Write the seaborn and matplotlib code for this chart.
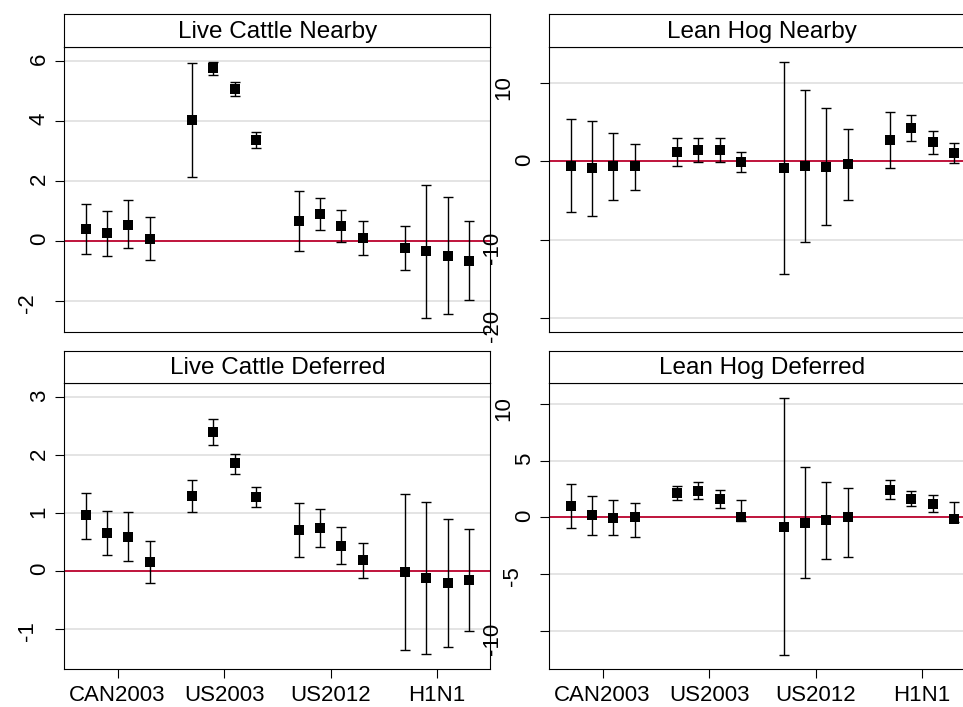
import matplotlib
matplotlib.use("Agg")
import matplotlib.pyplot as plt
import matplotlib.transforms as mtransforms
import numpy as np
import seaborn as sns

# event windows and position of each estimate on the x axis
events = ["CAN2003", "US2003", "US2012", "H1N1"]
event_ticks = [2.5, 7.5, 12.5, 17.5]
xpos = [1, 2, 3, 4, 6, 7, 8, 9, 11, 12, 13, 14, 16, 17, 18, 19]

# Live Cattle Nearby
lc_near_est = [0.40, 0.26, 0.54, 0.08, 4.03, 5.76, 5.06, 3.37,
               0.68, 0.90, 0.50, 0.11, -0.23, -0.34, -0.50, -0.67]
lc_near_lo = [-0.43, -0.49, -0.24, -0.63, 2.14, 5.53, 4.84, 3.10,
              -0.32, 0.37, -0.04, -0.46, -0.97, -2.57, -2.43, -1.97]
lc_near_hi = [1.23, 0.99, 1.38, 0.79, 5.92, 5.97, 5.29, 3.62,
              1.67, 1.43, 1.04, 0.68, 0.50, 1.87, 1.46, 0.66]

# Lean Hog Nearby
lh_near_est = [-0.55, -0.85, -0.55, -0.64, 1.19, 1.49, 1.49, -0.09,
               -0.81, -0.60, -0.68, -0.38, 2.72, 4.30, 2.51, 1.02]
lh_near_lo = [-6.51, -6.98, -4.94, -3.70, -0.55, -0.09, -0.09, -1.32,
              -14.38, -10.30, -8.17, -4.94, -0.89, 2.55, 0.98, -0.21]
lh_near_hi = [5.36, 5.19, 3.66, 2.21, 3.02, 3.02, 3.02, 1.23,
              12.72, 9.06, 6.77, 4.09, 6.34, 5.96, 3.91, 2.30]

# Live Cattle Deferred
lc_def_est = [0.96, 0.65, 0.59, 0.16, 1.30, 2.40, 1.86, 1.28,
              0.71, 0.75, 0.44, 0.19, -0.02, -0.13, -0.21, -0.16]
lc_def_lo = [0.56, 0.27, 0.17, -0.21, 1.02, 2.17, 1.68, 1.10,
             0.24, 0.41, 0.12, -0.12, -1.37, -1.44, -1.31, -1.04]
lc_def_hi = [1.35, 1.04, 1.02, 0.52, 1.58, 2.62, 2.03, 1.45,
             1.18, 1.07, 0.76, 0.49, 1.33, 1.20, 0.89, 0.73]

# Lean Hog Deferred
lh_def_est = [1.00, 0.21, -0.03, 0.03, 2.15, 2.33, 1.59, 0.00,
              -0.86, -0.50, -0.27, 0.06, 2.39, 1.65, 1.21, -0.18]
lh_def_lo = [-0.94, -1.53, -1.59, -1.77, 1.53, 1.59, 0.80, -0.30,
             -12.15, -5.40, -3.66, -3.51, 1.59, 0.97, 0.44, -0.45]
lh_def_hi = [2.98, 1.92, 1.50, 1.30, 2.80, 3.16, 2.42, 1.50,
             10.50, 4.42, 3.10, 2.63, 3.27, 2.33, 1.98, 1.36]

panels = [
    ("Live Cattle Nearby", lc_near_est, lc_near_lo, lc_near_hi, [-2, 0, 2, 4, 6], (-3.04, 6.46)),
    ("Lean Hog Nearby", lh_near_est, lh_near_lo, lh_near_hi, [-20, -10, 0, 10], (-21.83, 14.55)),
    ("Live Cattle Deferred", lc_def_est, lc_def_lo, lc_def_hi, [-1, 0, 1, 2, 3], (-1.695, 3.245)),
    ("Lean Hog Deferred", lh_def_est, lh_def_lo, lh_def_hi, [-10, -5, 0, 5, 10], (-13.39, 11.83)),
]

sns.set_style("white")
plt.rcParams['font.family'] = ['Liberation Sans', 'DejaVu Sans']
plt.rcParams['text.color'] = 'black'
plt.rcParams['xtick.color'] = 'black'
plt.rcParams['ytick.color'] = 'black'
plt.rcParams['xtick.labelcolor'] = 'black'
plt.rcParams['ytick.labelcolor'] = 'black'

W, H = 963, 707
fig = plt.figure(figsize=(W / 100, H / 100), dpi=100)

# panel boxes in pixels: left, plot top, plot bottom, title top
lefts = [64.3, 549.3]
rows = [(47.3, 332.3, 14.0), (383.3, 669.0, 350.7)]
pw = 426.0

red = "#c0143c"

for i, (title, est, lo, hi, yt, ylim) in enumerate(panels):
    r, c = divmod(i, 2)
    top, bot, ttop = rows[r]
    x0 = lefts[c]
    ax = fig.add_axes([x0 / W, 1 - bot / H, pw / W, (bot - top) / H])
    tax = fig.add_axes([x0 / W, 1 - top / H, pw / W, (top - ttop) / H])

    est = np.array(est)
    lo = np.array(lo)
    hi = np.array(hi)

    ax.axhline(0, color=red, lw=1.4, zorder=2)
    ax.errorbar(xpos, est, yerr=[est - lo, hi - est], fmt="none",
                ecolor="black", elinewidth=1.0, capsize=3.6, capthick=1.0, zorder=3)
    sns.scatterplot(x=xpos, y=est, marker="s", s=50, color="black",
                    linewidth=0, ax=ax, zorder=4)

    ax.set_xlim(0, 20)
    ax.set_ylim(*ylim)
    ax.set_yticks(yt, [str(v) for v in yt])
    ax.grid(axis="y", color="#dcdcdc", lw=1.1)
    ax.set_axisbelow(True)
    if r == 1:
        ax.set_xticks(event_ticks, events)
    else:
        ax.set_xticks([])
    ax.tick_params(axis="both", direction="out", length=6.5, width=0.8,
                   color="black", labelcolor="black", labelsize=16,
                   left=True, bottom=(r == 1))
    ax.tick_params(axis="y", pad=4, labelrotation=90)
    ax.tick_params(axis="x", pad=5)
    for sp in ax.spines.values():
        sp.set_color("black")
        sp.set_linewidth(0.8)

    tax.set_xticks([])
    tax.set_yticks([])
    for sp in tax.spines.values():
        sp.set_color("black")
        sp.set_linewidth(0.8)
    tax.text(0.5, 0.47, title, ha="center", va="center", fontsize=17.5,
             color="black", transform=tax.transAxes)

    # stagger rotated y labels by text length, like the original graph engine
    fig.canvas.draw()
    rend = fig.canvas.get_renderer()
    labs = ax.get_yticklabels()
    for lab in labs:
        wlen = lab.get_window_extent(rend).height
        one = 0.556 * 16 * 100 / 72
        dx = 1.6 * max(wlen - one, 0) * 72 / 100
        lab.set_transform(lab.get_transform() +
                          mtransforms.ScaledTranslation(-dx / 72, 0, fig.dpi_scale_trans))

fig.savefig("out.png", dpi=100)
